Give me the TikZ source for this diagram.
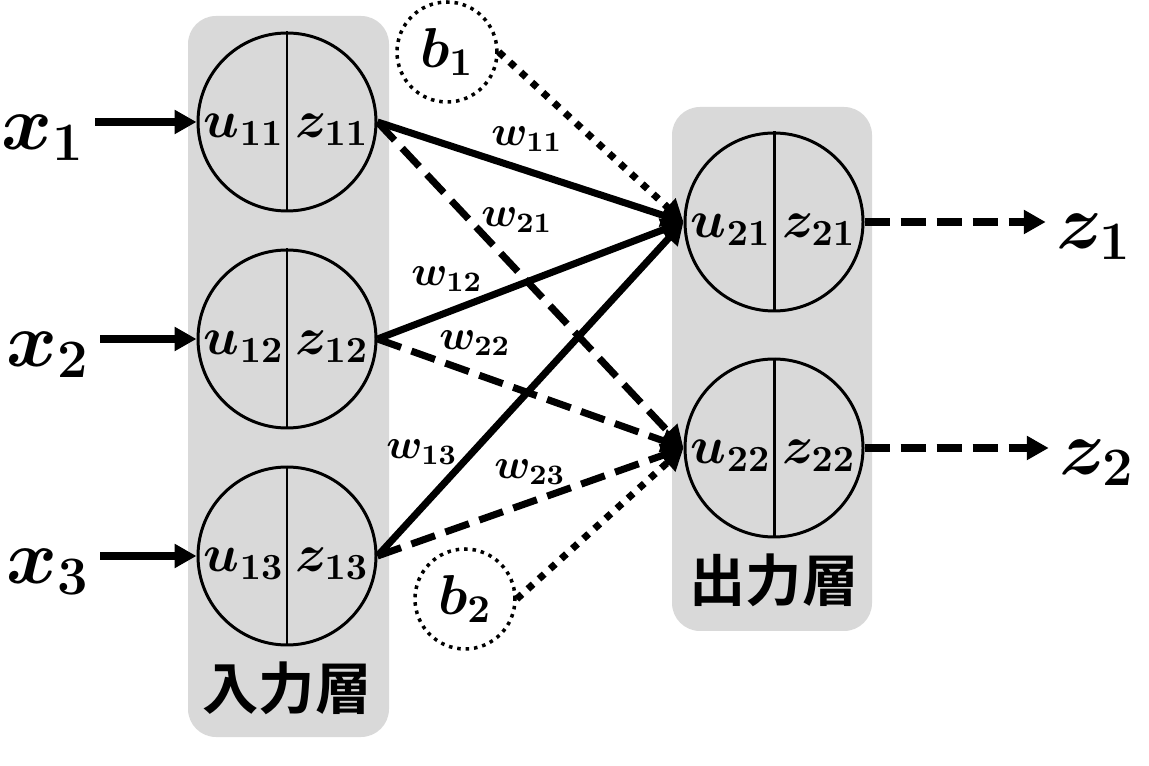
\documentclass[tikz,border=0pt]{standalone}
\usepackage{fix-cm}
\usepackage{amsmath}
\usepackage{fontspec}
\newfontfamily\cjk{Noto Sans CJK JP}[BoldFont={Noto Sans CJK JP Bold}]
\usetikzlibrary{arrows.meta,positioning}
\definecolor{layergray}{RGB}{217,217,217}

\begin{document}
\begin{tikzpicture}[
	on grid,
	> = {Triangle[length=0.22cm,width=0.23cm]},
	neuron/.style = {draw, circle, line width=0.85pt, minimum size=1.78cm, inner sep=0pt},
	bias/.style = {draw, circle, line width=1pt, dash pattern=on 1pt off 1.4pt,
		minimum size=1cm, inner sep=0pt, font=\fontsize{16}{19}\selectfont\boldmath},
	nlab/.style = {inner sep=0.05cm, font=\fontsize{15}{18}\selectfont\boldmath},
	wlab/.style = {inner sep=0.05cm, font=\fontsize{12}{14}\selectfont\boldmath},
	io/.style = {inner sep=0.1cm, font=\fontsize{22}{26}\selectfont\boldmath},
	layer/.style = {fill=layergray, rounded corners=0.28cm},
	laylab/.style = {font=\fontsize{16}{19}\selectfont\cjk\bfseries},
	conn/.style = {->, line width=2pt},
	dashconn/.style = {conn, dash pattern=on 0.25cm off 0.11cm},
	dotconn/.style = {conn, dash pattern=on 0.07cm off 0.08cm}
	]
	\useasboundingbox (0,0) rectangle (11.49,7.65);
	% layers
	\fill[layer] (1.88,0.28) rectangle (3.89,7.49);
	\fill[layer] (6.72,1.34) rectangle (8.72,6.58);
	
	% neurons
	\node[neuron] (I1) at (2.87,6.43) {};
	\node[neuron] (I2) [below=2.17cm of I1] {};
	\node[neuron] (I3) [below=2.17cm of I2] {};
	\node[neuron] (O1) at (7.74,5.43) {};
	\node[neuron] (O2) [below=2.26cm of O1] {};
	\draw[line width=0.85pt] (I1.north) -- (I1.south)
		(I2.north) -- (I2.south)
		(I3.north) -- (I3.south)
		(O1.north) -- (O1.south)
		(O2.north) -- (O2.south);
	
	\node[nlab] (u11) [below left=0.08cm and 0.43cm of I1] {$u_{11}$};
	\node[nlab] (z11) [below right=0.08cm and 0.45cm of I1] {$z_{11}$};
	\node[nlab] (u12) [below left=0.08cm and 0.43cm of I2] {$u_{12}$};
	\node[nlab] (z12) [below right=0.08cm and 0.45cm of I2] {$z_{12}$};
	\node[nlab] (u13) [below left=0.08cm and 0.43cm of I3] {$u_{13}$};
	\node[nlab] (z13) [below right=0.08cm and 0.45cm of I3] {$z_{13}$};
	\node[nlab] (u21) [below left=0.08cm and 0.43cm of O1] {$u_{21}$};
	\node[nlab] (z21) [below right=0.08cm and 0.45cm of O1] {$z_{21}$};
	\node[nlab] (u22) [below left=0.08cm and 0.43cm of O2] {$u_{22}$};
	\node[nlab] (z22) [below right=0.08cm and 0.45cm of O2] {$z_{22}$};
	
	% layer names
	\node[laylab] (inname) [below=1.32cm of I3] {入力層};
	\node[laylab] (outname) [below=1.32cm of O2] {出力層};
	
	% biases
	\node[bias] (b1) [above right=0.70cm and 1.60cm of I1] {$b_1$};
	\node[bias] (b2) [below right=0.43cm and 1.78cm of I3] {$b_2$};
	
	% inputs and outputs
	\node[io] (x1) [below left=0.16cm and 2.44cm of I1] {$x_1$};
	\node[io] (x2) [below left=0.16cm and 2.39cm of I2] {$x_2$};
	\node[io] (x3) [below left=0.16cm and 2.39cm of I3] {$x_3$};
	\node[io] (z1) [below right=0.15cm and 3.20cm of O1] {$z_1$};
	\node[io] (z2) [below right=0.15cm and 3.23cm of O2] {$z_2$};
	
	\draw[conn] (x1.east |- I1.west) -- (I1.west);
	\draw[conn] (x2.east |- I2.west) -- (I2.west);
	\draw[conn] (x3.east |- I3.west) -- (I3.west);
	\draw[dashconn] (O1.east) -- (z1.west |- O1.east);
	\draw[dashconn] (O2.east) -- (z2.west |- O2.east);
	
	% weights
	\draw[conn] (I1.east) -- (O1.west);
	\draw[dashconn] (I1.east) -- (O2.west);
	\draw[conn] (I2.east) -- (O1.west);
	\draw[dashconn] (I2.east) -- (O2.west);
	\draw[conn] (I3.east) -- (O1.west);
	\draw[dashconn] (I3.east) -- (O2.west);
	\draw[dotconn] (b1.east) -- (O1.west);
	\draw[dotconn] (b2.east) -- (O2.west);
	
	\node[wlab] (w11) at (5.27,6.26) {$w_{11}$};
	\node[wlab] (w21) at (5.17,5.45) {$w_{21}$};
	\node[wlab] (w12) at (4.47,4.86) {$w_{12}$};
	\node[wlab] (w22) at (4.75,4.22) {$w_{22}$};
	\node[wlab] (w13) at (4.22,3.13) {$w_{13}$};
	\node[wlab] (w23) at (5.30,2.93) {$w_{23}$};
\end{tikzpicture}
\end{document}
